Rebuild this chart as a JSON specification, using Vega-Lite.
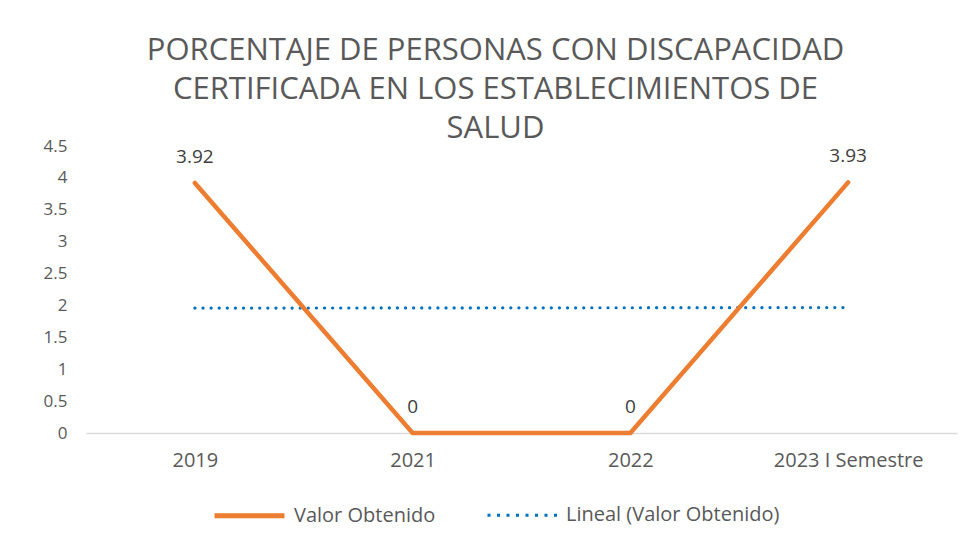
{
  "$schema": "https://vega.github.io/schema/vega-lite/v6.json",
  "width": 871,
  "height": 287,
  "autosize": "none",
  "padding": {"left": 86, "top": 146, "right": 11, "bottom": 108},
  "background": "white",
  "config": {
    "font": "Open Sans",
    "view": {"stroke": null}
  },
  "title": {
    "text": ["PORCENTAJE DE PERSONAS CON DISCAPACIDAD", "CERTIFICADA EN LOS ESTABLECIMIENTOS DE", "SALUD"],
    "fontSize": 31,
    "fontWeight": "normal",
    "color": "#595959",
    "lineHeight": 39,
    "anchor": "middle",
    "dx": -26,
    "offset": -8
  },
  "data": {
    "values": [
      {"anio": "2019", "serie": "Valor Obtenido", "valor": 3.92},
      {"anio": "2021", "serie": "Valor Obtenido", "valor": 0},
      {"anio": "2022", "serie": "Valor Obtenido", "valor": 0},
      {"anio": "2023 I Semestre", "serie": "Valor Obtenido", "valor": 3.93},
      {"anio": "2019", "serie": "Lineal (Valor Obtenido)", "valor": 1.958},
      {"anio": "2021", "serie": "Lineal (Valor Obtenido)", "valor": 1.961},
      {"anio": "2022", "serie": "Lineal (Valor Obtenido)", "valor": 1.964},
      {"anio": "2023 I Semestre", "serie": "Lineal (Valor Obtenido)", "valor": 1.967}
    ]
  },
  "encoding": {
    "x": {
      "field": "anio",
      "type": "ordinal",
      "sort": null,
      "scale": {"type": "point", "padding": 0.5},
      "axis": {
        "title": null,
        "labelAngle": 0,
        "labelFontSize": 20,
        "labelColor": "#595959",
        "labelPadding": 17,
        "ticks": false,
        "domainColor": "#d9d9d9",
        "domainWidth": 1.5,
        "grid": false
      }
    },
    "y": {
      "field": "valor",
      "type": "quantitative",
      "scale": {"domain": [0, 4.5], "nice": false},
      "axis": {
        "title": null,
        "values": [0, 0.5, 1, 1.5, 2, 2.5, 3, 3.5, 4, 4.5],
        "format": "~g",
        "labelFontSize": 17,
        "labelColor": "#595959",
        "labelPadding": 19,
        "ticks": false,
        "tickSize": 0,
        "domain": false,
        "grid": false
      }
    }
  },
  "layer": [
    {
      "transform": [{"filter": "datum.serie === 'Lineal (Valor Obtenido)'"}],
      "mark": {"type": "line", "strokeCap": "round", "strokeWidth": 3.2, "strokeDash": [0.1, 8], "color": "#0070C0"},
      "encoding": {}
    },
    {
      "transform": [{"filter": "datum.serie === 'Valor Obtenido'"}],
      "mark": {"type": "line", "strokeWidth": 4.5, "strokeCap": "round", "color": "#ED7D31"},
      "encoding": {}
    },
    {
      "transform": [{"filter": "datum.serie === 'Valor Obtenido'"}],
      "mark": {"type": "text", "dy": -26, "fontSize": 19, "color": "#404040"},
      "encoding": {"text": {"field": "valor", "type": "quantitative"}}
    },
    {
      "mark": {"type": "line", "opacity": 0},
      "encoding": {
        "color": {
          "field": "serie",
          "type": "nominal",
          "scale": {"domain": ["Valor Obtenido", "Lineal (Valor Obtenido)"], "range": ["#ED7D31", "#0070C0"]},
          "legend": {
            "orient": "none",
            "legendX": 126,
            "legendY": 332,
            "direction": "horizontal",
            "title": null,
            "labelFontSize": 20,
            "labelLimit": 400,
            "labelColor": "#595959",
            "symbolType": "stroke",
            "symbolSize": 4900,
            "symbolOpacity": 1,
            "labelOffset": 7,
            "columnPadding": 45
          }
        },
        "strokeDash": {
          "field": "serie",
          "type": "nominal",
          "scale": {"domain": ["Valor Obtenido", "Lineal (Valor Obtenido)"], "range": [[1, 0], [3, 6.5]]},
          "legend": null
        },
        "strokeWidth": {
          "field": "serie",
          "type": "nominal",
          "scale": {"domain": ["Valor Obtenido", "Lineal (Valor Obtenido)"], "range": [5, 3]},
          "legend": null
        }
      }
    }
  ]
}
